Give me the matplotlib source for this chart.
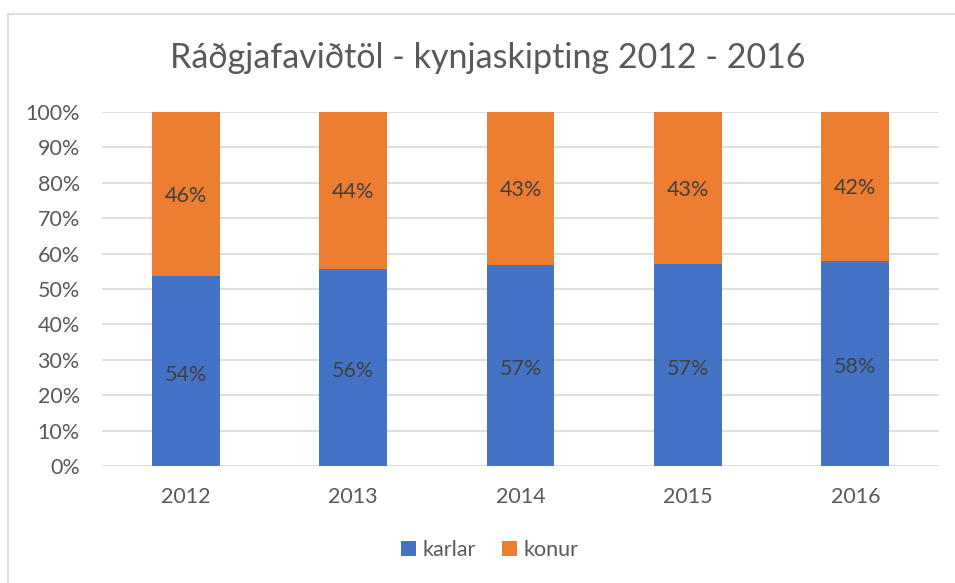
import matplotlib.pyplot as plt
import numpy as np
from matplotlib.patches import Rectangle

plt.rcParams['font.family'] = ['Lato', 'DejaVu Sans']

years = ['2012', '2013', '2014', '2015', '2016']
karlar = [53.6, 55.6, 56.8, 57.0, 57.9]
konur = [46.4, 44.4, 43.2, 43.0, 42.1]

blue = '#4472C4'
orange = '#ED7D31'
txt = '#595959'

fig = plt.figure(figsize=(9.55, 5.83), dpi=100)
ax = fig.add_axes([102 / 955, 1 - 466 / 583, 837 / 955, 354 / 583])

# frame round the chart, as in the exported picture
fig.patches.append(Rectangle((8 / 955, -0.1), 1.1, 1 - 14 / 583 + 0.1,
                             transform=fig.transFigure, fill=False,
                             edgecolor='#D9D9D9', linewidth=1.2))

x = np.arange(len(years))
w = 0.406
b1 = ax.bar(x, karlar, w, color=blue, label='karlar', zorder=2)
b2 = ax.bar(x, konur, w, bottom=karlar, color=orange, label='konur', zorder=2)

for i in range(len(years)):
    ax.text(x[i], karlar[i] / 2 - 1, f'{karlar[i]:.0f}%', ha='center', va='center',
            fontsize=15.5, color='#404040')
    ax.text(x[i], karlar[i] + konur[i] / 2 - 0.5, f'{konur[i]:.0f}%', ha='center',
            va='center', fontsize=15.5, color='#404040')

ax.set_xlim(-0.5, 4.5)
ax.set_ylim(0, 100)
ax.set_yticks(np.arange(0, 101, 10))
ax.set_yticklabels([f'{v}%' for v in range(0, 101, 10)])
ax.set_xticks(x)
ax.set_xticklabels(years)
ax.tick_params(length=0, labelsize=15.5, colors=txt)
ax.tick_params(axis='y', pad=16)
ax.tick_params(axis='x', pad=15)
ax.grid(axis='y', color='#D9D9D9', linewidth=1.2, zorder=0)
for s in ax.spines.values():
    s.set_visible(False)

fig.text(488 / 955, 1 - 58 / 583, 'Ráðgjafaviðtöl - kynjaskipting 2012 - 2016',
         ha='center', va='center', fontsize=24.5, color=txt)

fig.legend(handles=[b1, b2], loc='center', bbox_to_anchor=(490 / 955, 1 - 550 / 583),
           ncol=2, frameon=False, fontsize=15.5, handlelength=0.7, handleheight=0.7,
           handletextpad=0.3, columnspacing=1.2, labelcolor=txt)

fig.savefig('out.png', dpi=100)
